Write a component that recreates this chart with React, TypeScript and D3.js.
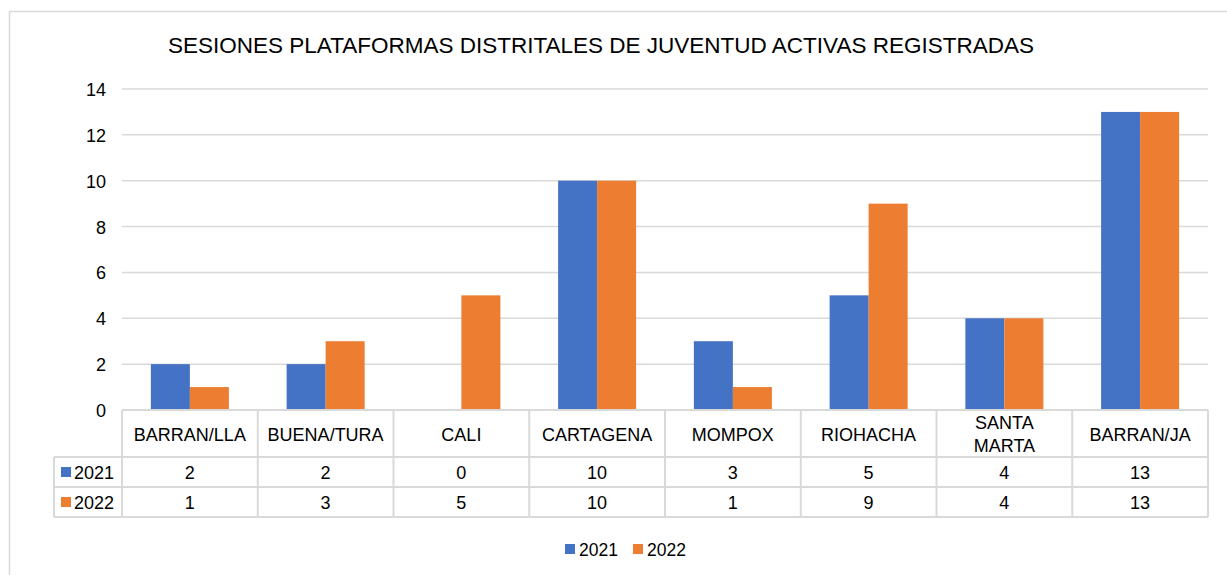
import { useEffect, useRef } from "react";
import * as d3 from 'd3';

const categories = ["BARRAN/LLA", "BUENA/TURA", "CALI", "CARTAGENA", "MOMPOX", "RIOHACHA", "SANTA MARTA", "BARRAN/JA"];
const series2021 = [2, 2, 0, 10, 3, 5, 4, 13];
const series2022 = [1, 3, 5, 10, 1, 9, 4, 13];
const seriesNames = ["2021", "2022"];
const colors = ["#4472c4", "#ed7d31"];
const yTicks = [0, 2, 4, 6, 8, 10, 12, 14];

const FONT = "'Liberation Sans', Arial, sans-serif";

export default function App() {
    const svgEl = useRef<SVGSVGElement>(null);

    useEffect(() => {
        const svg = d3.select(svgEl.current);
        svg.selectChildren().remove();

        const left = 122, right = 1208, top = 89, bottom = 410;
        const headerBottom = 457, row1Bottom = 487, row2Bottom = 517, tableLeft = 54;
        const grid = '#d9d9d9';

        // outer frame
        svg.append('path')
            .attr('d', `M9.5,575 L9.5,11.5 L1227,11.5`)
            .attr('fill', 'none').attr('stroke', grid).attr('stroke-width', 1.5);

        svg.append('text')
            .attr('x', 601).attr('y', 53)
            .attr('text-anchor', 'middle')
            .attr('font-family', FONT).attr('font-size', 22.5)
            .attr('fill', '#000')
            .text('SESIONES PLATAFORMAS DISTRITALES DE JUVENTUD ACTIVAS REGISTRADAS');

        const y = d3.scaleLinear().domain([0, 14]).range([bottom, top]);
        const x = d3.scaleBand().domain(categories).range([left, right]).paddingInner(0).paddingOuter(0);
        const inner = d3.scaleBand().domain(seriesNames).range([0, x.bandwidth()]).paddingInner(0).paddingOuter(0.74);

        // gridlines
        svg.append('g').selectAll('line').data(yTicks.filter(t => t > 0)).join('line')
            .attr('x1', left).attr('x2', right)
            .attr('y1', d => y(d)).attr('y2', d => y(d))
            .attr('stroke', grid).attr('stroke-width', 1.5);

        svg.append('g').selectAll('text').data(yTicks).join('text')
            .attr('x', 106).attr('y', d => y(d) + 7)
            .attr('text-anchor', 'end')
            .attr('font-family', FONT).attr('font-size', 18)
            .attr('fill', '#000')
            .text(d => d);

        const allSeries = [series2021, series2022];
        allSeries.forEach((vals, si) => {
            svg.append('g').selectAll('rect').data(vals).join('rect')
                .attr('x', (_, i) => (x(categories[i]) ?? 0) + (inner(seriesNames[si]) ?? 0))
                .attr('width', inner.bandwidth())
                .attr('y', d => y(d))
                .attr('height', d => y(0) - y(d))
                .attr('fill', colors[si]);
        });

        // data table
        const t = svg.append('g')
            .attr('stroke', grid).attr('stroke-width', 2).attr('fill', 'none');
        const cols = categories.map(c => x(c) ?? 0).concat([right]);
        t.selectAll('line.v').data(cols).join('line')
            .attr('x1', d => d).attr('x2', d => d)
            .attr('y1', bottom).attr('y2', row2Bottom);
        t.append('line').attr('x1', tableLeft).attr('x2', tableLeft).attr('y1', headerBottom).attr('y2', row2Bottom);
        t.append('line').attr('x1', left).attr('x2', right).attr('y1', bottom).attr('y2', bottom);
        [headerBottom, row1Bottom, row2Bottom].forEach(yy => {
            t.append('line').attr('x1', tableLeft).attr('x2', right).attr('y1', yy).attr('y2', yy);
        });

        const headers = svg.append('g')
            .attr('font-family', FONT).attr('font-size', 18).attr('fill', '#000')
            .attr('text-anchor', 'middle');
        categories.forEach(c => {
            const cx = (x(c) ?? 0) + x.bandwidth() / 2;
            const words = c.split(' ');
            if (words.length > 1) {
                words.forEach((w, i) => {
                    headers.append('text').attr('x', cx).attr('y', 429 + i * 23).text(w);
                });
            } else {
                headers.append('text').attr('x', cx).attr('y', 441).text(c);
            }
        });

        const rowsBase = [479, 509];
        allSeries.forEach((vals, si) => {
            const g = svg.append('g')
                .attr('font-family', FONT).attr('font-size', 18).attr('fill', '#000');
            g.append('rect')
                .attr('x', 61).attr('y', rowsBase[si] - 12)
                .attr('width', 10).attr('height', 10)
                .attr('fill', colors[si]);
            g.append('text')
                .attr('x', 74).attr('y', rowsBase[si])
                .text(seriesNames[si]);
            g.selectAll('text.v').data(vals).join('text')
                .attr('x', (_, i) => (x(categories[i]) ?? 0) + x.bandwidth() / 2)
                .attr('y', rowsBase[si])
                .attr('text-anchor', 'middle')
                .text(d => d);
        });

        // legend
        const legend = svg.append('g')
            .attr('font-family', FONT).attr('font-size', 17.5).attr('fill', '#000');
        const legendX = [565, 633];
        seriesNames.forEach((s, i) => {
            legend.append('rect')
                .attr('x', legendX[i]).attr('y', 544)
                .attr('width', 10).attr('height', 10)
                .attr('fill', colors[i]);
            legend.append('text')
                .attr('x', legendX[i] + 14).attr('y', 556)
                .text(s);
        });
    }, []);

    return <svg ref={svgEl} width={1227} height={575}
        style={{ position: 'absolute', left: 0, top: 0, background: '#fff' }}>
    </svg>
}
